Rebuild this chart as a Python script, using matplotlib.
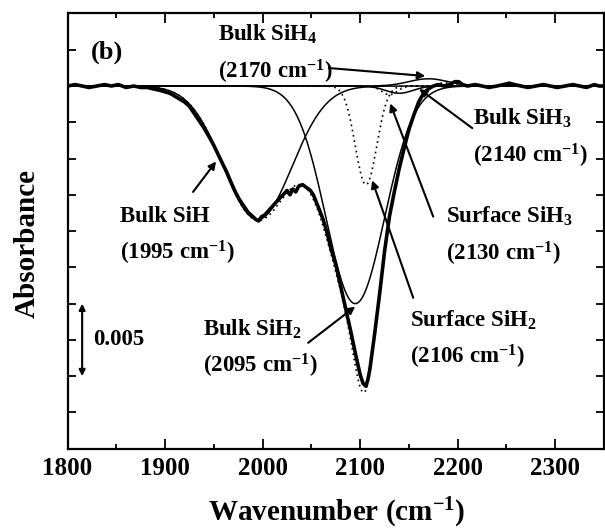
"""IR absorbance spectrum of the Si-H stretching region with its Gaussian fit."""

import matplotlib

matplotlib.use("Agg")
import matplotlib.pyplot as plt
import numpy as np
from matplotlib.ticker import MultipleLocator, NullFormatter

plt.rcParams.update({
    "font.family": "Liberation Serif",
    "font.weight": "bold",
    "axes.labelweight": "bold",
    "mathtext.fontset": "custom",
    "mathtext.rm": "Liberation Serif:bold",
    "mathtext.it": "Liberation Serif:italic:bold",
    "mathtext.bf": "Liberation Serif:bold",
})

# measured spectrum (cm-1, absorbance)
wavenumber = [
    1800, 1808, 1815, 1822, 1830, 1838, 1845, 1852, 1860, 1868, 1875, 1882,
    1888, 1895, 1900, 1905, 1910, 1915, 1920, 1925, 1930, 1935, 1940, 1946,
    1950, 1955, 1960, 1963, 1968, 1972, 1976, 1980, 1985, 1990, 1993, 1996,
    1999, 2002, 2006, 2010, 2014, 2018, 2021, 2025, 2028, 2031, 2034, 2037,
    2041, 2045, 2049, 2052, 2055, 2058, 2062, 2066, 2070, 2075, 2080, 2085,
    2090, 2095, 2100, 2103, 2106, 2108, 2110, 2115, 2120, 2125, 2130, 2135,
    2140, 2145, 2150, 2155, 2160, 2165, 2170, 2175, 2180, 2186, 2192, 2197,
    2201, 2205, 2210, 2218, 2225, 2232, 2240, 2247, 2253, 2258, 2265, 2272,
    2280, 2288, 2295, 2302, 2310, 2318, 2325, 2332, 2340, 2345, 2350,
]
absorbance = [
    0.0000, 0.0001, 0.0000, -0.0001, 0.0000, 0.0001, 0.0000, 0.0001, -0.0001,
    0.0000, -0.0001, -0.0001, -0.0002, -0.0003, -0.0004, -0.0005, -0.0007,
    -0.0009, -0.0011, -0.0014, -0.0019, -0.0024, -0.0029, -0.0036, -0.0041,
    -0.0048, -0.0055, -0.0059, -0.0067, -0.0073, -0.0078, -0.0082, -0.0087,
    -0.0090, -0.0092, -0.0093, -0.0090, -0.0089, -0.0086, -0.0083, -0.0080,
    -0.0077, -0.0075, -0.0072, -0.0075, -0.0071, -0.0073, -0.0069, -0.0068,
    -0.0070, -0.0072, -0.0075, -0.0080, -0.0085, -0.0092, -0.0101, -0.0112,
    -0.0123, -0.0138, -0.0153, -0.0168, -0.0184, -0.0199, -0.0205, -0.0207,
    -0.0202, -0.0195, -0.0170, -0.0143, -0.0114, -0.0090, -0.0073, -0.0057,
    -0.0043, -0.0030, -0.0020, -0.0011, -0.0005, -0.0002, 0.0000, 0.0001,
    0.0000, 0.0001, 0.0003, 0.0003, 0.0001, 0.0000, 0.0001, 0.0000, -0.0001,
    0.0000, 0.0001, 0.0002, 0.0001, 0.0000, -0.0001, 0.0000, 0.0001, 0.0000,
    -0.0001, 0.0000, 0.0001, 0.0000, -0.0001, 0.0001, 0.0000, 0.0000,
]

# fitted Gaussian components
peak_names = ["Bulk SiH", "Bulk SiH2", "Surface SiH2", "Surface SiH3", "Bulk SiH3", "Bulk SiH4"]
peak_centers = [1995, 2095, 2106, 2130, 2140, 2170]
peak_heights = [-0.0092, -0.0150, -0.0068, -0.0006, -0.0005, 0.0005]
peak_sigmas = [35, 30, 11, 8, 14, 20]
peak_dotted = [False, False, True, True, False, False]

DOTS = (0, (1.0, 2.2))
TEXT_SIZE = 16.5


def gaussian(x, center, height, sigma):
    return height * np.exp(-((x - center) ** 2) / (2 * sigma ** 2))


def label_peak(ax, name, position, text_at, tail, tip):
    x, y = text_at
    ax.text(x, y, name, fontsize=TEXT_SIZE, va="baseline", ha="left")
    ax.text(x, y - 0.00255, position, fontsize=TEXT_SIZE, va="baseline", ha="left")
    ax.annotate(
        "",
        xy=tip,
        xytext=tail,
        arrowprops=dict(arrowstyle="-|>", color="black", lw=1.5,
                        mutation_scale=11, shrinkA=0, shrinkB=0),
    )


fig = plt.figure(figsize=(6.05, 5.29), dpi=100)
ax = fig.add_axes([0.1116, 0.1518, 0.8868, 0.8227])

grid = np.linspace(1800, 2350, 1101)
components = [
    gaussian(grid, c, h, s)
    for c, h, s in zip(peak_centers, peak_heights, peak_sigmas)
]
for curve, dotted in zip(components, peak_dotted):
    if dotted:
        ax.plot(grid, curve, color="black", lw=1.2, linestyle=DOTS)
    else:
        ax.plot(grid, curve, color="black", lw=1.1)

ax.plot(grid, np.sum(components, axis=0), color="black", lw=1.2, linestyle=DOTS)
ax.plot(wavenumber, absorbance, color="black", lw=2.6, solid_joinstyle="round")

label_peak(ax, r"Bulk SiH$_4$", r"(2170 cm$^{-1}$)",
           (1954.4, 0.0031), (2068.0, 0.00124), (2166.7, 0.00069))
label_peak(ax, r"Bulk SiH$_3$", r"(2140 cm$^{-1}$)",
           (2215.9, -0.0027), (2214.9, -0.0029), (2160.5, -0.0002))
label_peak(ax, "Bulk SiH", r"(1995 cm$^{-1}$)",
           (1853.8, -0.0094), (1928.7, -0.0073), (1952.3, -0.0052))
label_peak(ax, r"Bulk SiH$_2$", r"(2095 cm$^{-1}$)",
           (1939.0, -0.0172), (2046.7, -0.0177), (2094.9, -0.0152))
label_peak(ax, r"Surface SiH$_3$", r"(2130 cm$^{-1}$)",
           (2187.7, -0.00945), (2174.9, -0.0090), (2130.8, -0.0012))
label_peak(ax, r"Surface SiH$_2$", r"(2106 cm$^{-1}$)",
           (2151.3, -0.0166), (2154.4, -0.0146), (2112.3, -0.0065))

# 0.005 absorbance scale bar
ax.annotate(
    "",
    xy=(1815, -0.015),
    xytext=(1815, -0.020),
    arrowprops=dict(arrowstyle="<|-|>", color="black", lw=1.5,
                    mutation_scale=9, shrinkA=0, shrinkB=0),
)
ax.text(1826.5, -0.0175, "0.005", fontsize=TEXT_SIZE, va="center", ha="left")
ax.text(1824.0, 0.0023, "(b)", fontsize=19, va="center", ha="left")

ax.set_xlim(1800, 2350)
ax.set_ylim(-0.025, 0.005)
ax.xaxis.set_major_locator(MultipleLocator(100))
ax.xaxis.set_minor_locator(MultipleLocator(50))
ax.yaxis.set_major_locator(MultipleLocator(0.0025))
ax.yaxis.set_major_formatter(NullFormatter())
ax.tick_params(which="both", direction="in", top=True, right=True, width=1.3)
ax.tick_params(axis="x", which="major", length=7, labelsize=18, pad=6)
ax.tick_params(axis="x", which="minor", length=3.5)
ax.tick_params(axis="y", which="major", length=6)
for spine in ax.spines.values():
    spine.set_linewidth(1.6)

ax.set_xlabel(r"Wavenumber (cm$^{-1}$)", fontsize=21, fontweight="bold", va="center")
ax.xaxis.set_label_coords(0.501, -0.148)
ax.set_ylabel("Absorbance", fontsize=21, fontweight="bold", va="center")
ax.yaxis.set_label_coords(-0.0755, 0.4715)

fig.savefig("out.png", dpi=100)
